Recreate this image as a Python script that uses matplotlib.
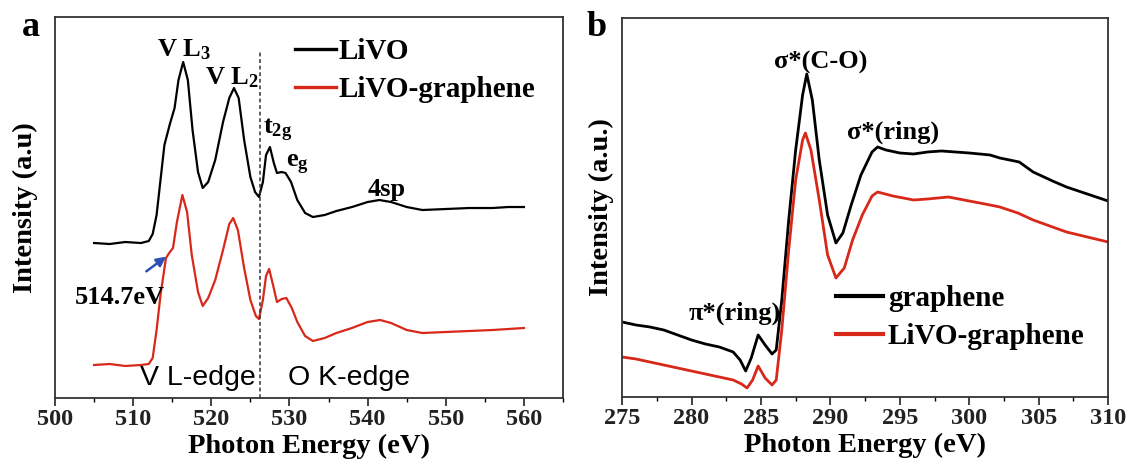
import numpy as np
import matplotlib
matplotlib.use('Agg')
import matplotlib.pyplot as plt
from matplotlib.ticker import MultipleLocator

plt.rcParams['font.family'] = ['Liberation Serif', 'DejaVu Serif']
plt.rcParams['font.weight'] = 'bold'
plt.rcParams['mathtext.fontset'] = 'custom'
plt.rcParams['mathtext.rm'] = 'Liberation Serif:bold'
plt.rcParams['mathtext.it'] = 'Liberation Serif:bold'
plt.rcParams['mathtext.bf'] = 'Liberation Serif:bold'

RED = '#d8281a'

# panel a: V L-edge / O K-edge spectra (arbitrary units)
e_livo = [505, 507, 509, 511, 512, 512.5, 513, 513.5, 514, 514.7, 515.3, 515.8, 516.4, 517, 517.6,
          518.3, 518.9, 519.6, 520.5, 521.5, 522.3, 522.9, 523.5, 524.2, 525, 525.6, 526.1, 526.6,
          527.0, 527.5, 528.0, 528.4, 529.0, 529.5, 530.2, 531, 532, 533, 534.5, 536, 538, 540,
          541.5, 543, 545, 547, 550, 553, 556, 558, 560]
i_livo = [155, 154, 156, 155, 157, 164, 183, 218, 253, 274, 290, 318, 336, 318, 268,
          226, 210, 216, 238, 276, 300, 310, 300, 258, 221, 206, 201, 216,
          243, 251, 235, 225, 226, 225, 216, 198, 185, 181, 183, 187, 191, 196,
          198, 196, 191, 188, 189, 190, 190, 191, 191]

e_livog = [505, 507, 509, 511, 512, 512.5, 513, 513.5, 514.2, 514.7, 515.1, 515.6, 516.3, 516.9,
           517.5, 518.3, 518.9, 519.6, 520.5, 521.5, 522.3, 522.8, 523.4, 524.2, 525.0, 525.7,
           526.1, 526.6, 527.0, 527.4, 527.9, 528.4, 529.0, 529.6, 530.3, 531, 532, 533, 534.5,
           536, 538, 540, 541.6, 543, 545, 547, 550, 553, 556, 558, 560]
i_livog = [33, 34, 32, 33, 34, 40, 68, 103, 140, 146, 150, 176, 203, 186,
           143, 106, 92, 100, 118, 148, 174, 180, 168, 130, 98, 82,
           79, 98, 122, 129, 113, 96, 99, 100, 90, 76, 62, 57, 60,
           65, 70, 76, 78, 75, 68, 65, 66, 67, 68, 69, 70]

edge_split = 526.2

# panel b: C K-edge spectra
e_gr = [275, 276, 277, 278, 279, 280, 281, 282, 283, 283.5, 283.9, 284.3, 284.8, 285.3, 285.8,
        286.1, 286.5, 287.0, 287.5, 288.0, 288.3, 288.7, 289.2, 289.8, 290.4, 290.9, 291.5,
        292.2, 293.0, 293.4, 294, 295, 296, 297, 298, 299, 300, 301.5, 302.2, 303.6, 304.6,
        306, 307, 308.5, 310]
i_gr = [75, 72, 70, 67, 62, 57, 53, 50, 45, 37, 26, 39, 62, 52, 43,
        47, 97, 177, 247, 302, 323, 297, 237, 182, 154, 164, 192,
        222, 245, 250, 247, 244, 243, 245, 246, 245, 244, 242, 239, 235, 225,
        216, 210, 203, 196]

e_grl = [275, 276, 277, 278, 279, 280, 281, 282, 283, 283.6, 284.0, 284.4, 284.8, 285.3, 285.8,
         286.1, 286.5, 287.0, 287.5, 288.0, 288.2, 288.6, 289.2, 289.8, 290.4, 291.0, 291.6,
         292.3, 293.0, 293.4, 294.5, 296, 297, 298.5, 300, 301.5, 302.2, 303.5, 304.6, 306,
         307, 308.5, 310]
i_grl = [40, 38, 35, 32, 29, 26, 23, 20, 17, 13, 9, 17, 31, 19, 12,
         17, 67, 147, 217, 257, 264, 247, 197, 142, 119, 129, 157,
         182, 201, 205, 201, 197, 198, 200, 196, 192, 190, 184, 177, 170,
         165, 160, 155]

fig = plt.figure(figsize=(11.29, 4.59), dpi=100)
ax1 = fig.add_axes([0.0487, 0.1329, 0.45, 0.830])
ax2 = fig.add_axes([0.551, 0.1351, 0.4305, 0.8257])

for ax in (ax1, ax2):
    for s in ax.spines.values():
        s.set_linewidth(1.3)
        s.set_color('#333333')
    ax.set_yticks([])
    ax.tick_params(axis='x', which='major', direction='out', length=6, width=1.2,
                   labelsize=17.5, pad=2, colors='#222222')
    ax.tick_params(axis='x', which='minor', direction='out', length=3, width=1.0)

# ---- panel a ----
ax1.plot(e_livo, i_livo, color='black', lw=1.6, label='LiVO')
ax1.plot(e_livog, i_livog, color=RED, lw=1.6, label='LiVO-graphene')
ax1.axvline(edge_split, ymin=0, ymax=346 / 381, color='#333333', lw=1.1, ls=(0, (2.5, 1.8)))
ax1.set_xlim(500, 565)
ax1.set_ylim(0, 381)
ax1.xaxis.set_major_locator(MultipleLocator(10))
ax1.xaxis.set_minor_locator(MultipleLocator(5))
ax1.set_xlabel('Photon Energy (eV)', fontsize=20.5, fontweight='bold', labelpad=2.5)
ax1.set_ylabel('Intensity (a.u)', fontsize=20.5, fontweight='bold', labelpad=12)

ax1.text(516.5, 348, 'V L$_3$', fontsize=19, ha='center', va='center')
ax1.text(522.6, 320, 'V L$_2$', fontsize=19, ha='center', va='center')
ax1.text(528.5, 268, 't$_{2g}$', fontsize=19, ha='center', va='center')
ax1.text(531.0, 233, 'e$_g$', fontsize=19, ha='center', va='center')
ax1.text(542.5, 209, '4sp', fontsize=19, ha='center', va='center')
ax1.annotate('514.7eV', xy=(514.5, 143), xytext=(508.3, 101), fontsize=19,
             ha='center', va='center')
ax1.annotate('', xy=(514.5, 143), xytext=(511.4, 125),
             arrowprops=dict(arrowstyle='-|>', color='#2e4fb5', lw=1.8, mutation_scale=14))
ax1.text(518.3, 20, 'V L-edge', fontsize=20.5, ha='center', va='center',
         family='Liberation Sans', fontweight='normal')
ax1.text(537.6, 20, 'O K-edge', fontsize=20.5, ha='center', va='center',
         family='Liberation Sans', fontweight='normal')
leg1 = ax1.legend(loc='upper left', bbox_to_anchor=(0.472, 0.945), frameon=False,
                  fontsize=21, handlelength=1.4, handletextpad=0.1, labelspacing=0.38,
                  borderpad=0, borderaxespad=0)
for h in leg1.get_lines():
    h.set_linewidth(2.4)
fig.text(31 / 1129, 1 - 27 / 459, 'a', fontsize=26, fontweight='bold', ha='center', va='center')

# ---- panel b ----
ax2.plot(e_gr, i_gr, color='black', lw=2.0, label='graphene')
ax2.plot(e_grl, i_grl, color=RED, lw=2.0, label='LiVO-graphene')
ax2.set_xlim(275, 310)
ax2.set_ylim(0, 379)
ax2.xaxis.set_major_locator(MultipleLocator(5))
ax2.xaxis.set_minor_locator(MultipleLocator(2.5))
ax2.set_xlabel('Photon Energy (eV)', fontsize=20.5, fontweight='bold', labelpad=2.5)
ax2.set_ylabel('Intensity (a.u.)', fontsize=20.5, fontweight='bold', labelpad=6)

ax2.text(289.3, 335, 'σ*(C-O)', fontsize=19, ha='center', va='center')
ax2.text(294.5, 265, 'σ*(ring)', fontsize=19, ha='center', va='center')
ax2.text(283.1, 84, 'π*(ring)', fontsize=19, ha='center', va='center')
leg2 = ax2.legend(loc='upper left', bbox_to_anchor=(0.440, 0.296), frameon=False,
                  fontsize=21, handlelength=1.6, handletextpad=0.18, labelspacing=0.38,
                  borderpad=0, borderaxespad=0)
for h in leg2.get_lines():
    h.set_linewidth(3.0)
fig.text(597 / 1129, 1 - 28 / 459, 'b', fontsize=26, fontweight='bold', ha='center', va='center')

fig.savefig('out.png', dpi=100)
